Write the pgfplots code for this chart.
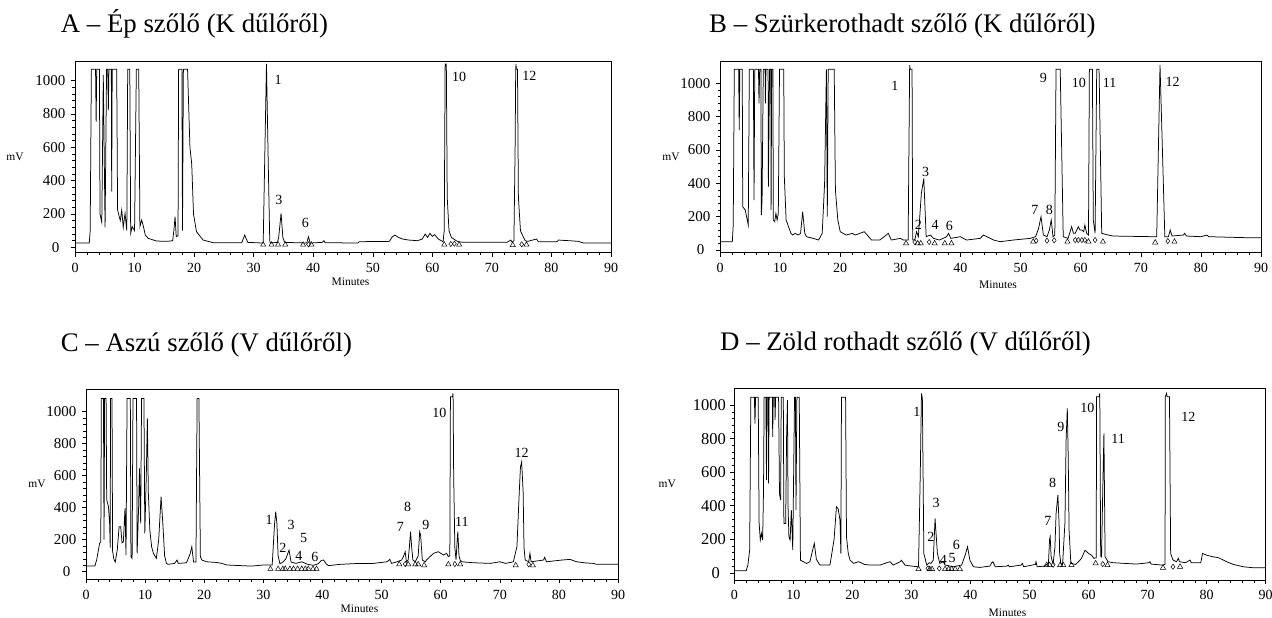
\documentclass[border=0pt]{standalone}
\usepackage{fontspec}
\setmainfont{Liberation Serif}
\usepackage{pgfplots}
\pgfplotsset{compat=1.18}
\pgfplotsset{
  chrom/.style={
    scale only axis, anchor=south west, clip mode=individual,
    xmin=0, xmax=90,
    xtick={0,10,...,90}, minor x tick num=4,
    ytick={0,200,...,1000}, minor y tick num=4,
    yticklabels={0\hspace*{6pt},200,400,600,800,1000},
    tick align=outside, tick pos=left,
    major tick length=4pt, minor tick length=2.5pt,
    every tick/.style={black, line width=0.5pt},
    axis line style={line width=0.7pt},
    xticklabel style={font=\fontsize{14}{16}\selectfont, yshift=-3pt},
    yticklabel style={font=\fontsize{15}{17}\selectfont, xshift=-2pt},
    /pgf/number format/assume math mode=true,
    /pgf/number format/1000 sep={},
    every axis plot/.append style={line width=0.6pt, black},
  },
  trace/.style={black, no marks, line width=0.75pt},
  tri/.style={only marks, mark=triangle, mark size=3pt, mark options={line width=0.5pt, black}},
  dia/.style={only marks, mark=diamond, mark size=2.6pt, mark options={line width=0.5pt, black}},
}
\newcommand{\pk}{\fontsize{14}{16}\selectfont}
\newcommand{\ttl}{\fontsize{26.8}{31}\selectfont}
\newcommand{\sm}{\fontsize{11.5}{13}\selectfont}
\begin{document}
\begin{tikzpicture}
\useasboundingbox (0pt,0pt) rectangle (1272pt,-618pt);
\node[anchor=base west, inner sep=0pt, font=\ttl] at (60.7pt,-33pt) {A – Ép szőlő (K dűlőről)};
\node[anchor=base west, inner sep=0pt, font=\ttl] at (709pt,-33pt) {B – Szürkerothadt szőlő (K dűlőről)};
\node[anchor=base west, inner sep=0pt, font=\ttl] at (60.7pt,-351pt) {C – Aszú szőlő (V dűlőről)};
\node[anchor=base west, inner sep=0pt, font=\ttl] at (720pt,-350pt) {D – Zöld rothadt szőlő (V dűlőről)};

% ---------------- A ----------------
\begin{axis}[chrom, at={(75pt,-252.7pt)}, width=536pt, height=191.7pt, ymin=-32, ymax=1118]
\addplot[trace] coordinates {
(0,26) (2.4,26) (2.55,100) (2.75,1068) (3.45,1068) (3.55,754) (3.65,1068) (4.1,1068) (4.2,200) (4.5,150) (4.75,1034) (5.05,120) (5.3,1068) (5.5,1068) (5.6,824) (5.7,1068) (6.1,1068) (6.16,334) (6.25,1068) (7.0,1068) (7.15,224) (7.6,160) (7.85,224) (8.1,120) (8.4,204) (8.7,100) (8.85,1068) (9.2,1068) (9.35,84) (9.6,124) (10.0,100) (10.3,1068) (10.7,1068) (10.9,124) (11.2,164) (11.5,124) (11.8,74) (12.3,54) (13.7,38) (15.4,36) (16.4,40) (16.6,100) (16.8,184) (17.0,64) (17.3,70) (17.4,1068) (17.95,1068) (18.05,100) (18.2,1068) (18.9,1068) (19.3,600) (19.6,500) (19.9,200) (20.4,94) (21.5,44) (23.2,28) (28.0,28) (28.5,74) (29.0,30) (31.6,26) (32.15,1100) (32.45,500) (32.7,40) (32.8,26) (34.0,30) (34.2,60) (34.6,204) (34.9,60) (35.2,30) (38.9,26) (39.2,64) (39.5,26) (41.5,30) (41.8,40) (42,28) (47.5,26) (47.7,34) (52.8,36) (53.2,60) (53.7,74) (54.3,60) (55,50) (56,44) (57.5,40) (58.3,50) (58.8,80) (59.2,60) (59.6,84) (60.0,66) (60.4,76) (61.0,50) (61.8,34) (62.0,100) (62.15,1100) (62.35,1100) (62.5,300) (62.8,100) (63.2,60) (64.0,40) (64.6,32) (66,30) (72.5,30) (73.2,44) (73.4,30) (73.7,40) (73.9,600) (74.0,1068) (74.05,1100) (74.1,1068) (74.3,1068) (74.45,300) (74.8,100) (75.3,60) (75.6,40) (76,36) (77.5,50) (77.8,34) (80.9,34) (81.2,44) (82,42) (83,40) (84.5,36) (85.4,26) (90,26)
};
\addplot[tri] coordinates {(31.6,16) (33.0,16) (34.1,16) (35.3,16) (38.3,16) (39.7,16) (62.0,16) (64.5,16) (73.5,14) (75.8,16)};
\addplot[dia] coordinates {(39.2,18) (63.1,20) (63.7,22) (75.0,18)};
\node[font=\pk] at (axis cs:34.1,1004) {1};
\node[font=\pk] at (axis cs:34.25,284) {3};
\node[font=\pk] at (axis cs:38.7,144) {6};
\node[font=\pk] at (axis cs:64.5,1024) {10};
\node[font=\pk] at (axis cs:76.3,1028) {12};
\node[font=\sm] at (rel axis cs:0,0.5) [xshift=-60pt] {mV};
\node[font=\sm] at (rel axis cs:0.514,0) [yshift=-29pt] {Minutes};
\end{axis}

% ---------------- B ----------------
\begin{axis}[chrom, at={(720pt,-252.7pt)}, width=541pt, height=191pt, ymin=-16, ymax=1130]
\addplot[trace] coordinates {
(0,50) (2.05,50) (2.2,150) (2.38,1084) (3.1,1084) (3.2,720) (3.3,1084) (3.7,1084) (3.78,260) (4.2,240) (4.7,150) (4.88,1084) (5.55,1084) (5.66,300) (5.78,1084) (6.4,1084) (6.49,880) (6.6,1084) (6.8,1084) (6.88,210) (7.0,300) (7.2,1084) (7.5,1084) (7.55,880) (7.65,1084) (8.0,1084) (8.05,380) (8.25,1084) (8.45,1084) (8.5,240) (8.6,1084) (8.8,1084) (8.87,180) (9.1,170) (9.3,220) (9.5,180) (9.7,220) (9.9,1084) (10.6,1084) (10.7,440) (11.0,180) (11.4,140) (11.8,100) (12.1,90) (12.5,100) (13.0,90) (13.4,100) (13.75,230) (14.1,100) (14.4,80) (15.5,70) (16.4,60) (17.0,100) (17.4,400) (17.7,1084) (17.85,200) (18.0,1084) (19.0,1084) (19.2,360) (19.6,180) (20.0,110) (20.5,100) (21,90) (22,100) (22.5,90) (24,110) (24.5,90) (25.2,60) (26.6,60) (28,100) (28.5,60) (30,70) (30.5,60) (31.3,60) (31.55,1110) (31.65,1084) (31.95,1084) (32.05,60) (32.4,60) (32.7,110) (33.0,80) (33.5,340) (33.9,430) (34.3,80) (35.0,90) (35.5,70) (36.5,60) (37.7,80) (38.0,100) (38.4,70) (40,80) (40.5,70) (41,60) (43.3,70) (43.8,90) (44.4,80) (45.5,60) (46.6,50) (48.8,60) (51.6,70) (52.5,80) (53.0,130) (53.4,200) (53.8,90) (54.4,80) (54.8,120) (55.1,180) (55.4,80) (55.7,90) (55.9,1084) (56.6,1084) (57.1,80) (57.9,70) (58.5,140) (58.8,100) (59.1,100) (59.6,140) (59.9,120) (60.2,120) (60.5,110) (60.7,150) (61.0,100) (61.3,90) (61.45,1084) (61.95,1084) (62.1,180) (62.4,100) (62.67,1084) (63.06,1084) (63.5,100) (64.6,90) (65.4,84) (72.0,80) (72.65,80) (73.2,1110) (73.6,600) (74.0,80) (74.6,80) (74.9,120) (75.2,84) (77.1,90) (77.3,100) (77.6,84) (80,80) (81,90) (81.3,80) (87.6,74) (90,74)
};
\addplot[tri] coordinates {(30.95,40) (32.9,40) (33.4,40) (35.7,40) (37.4,40) (38.5,40) (52.1,50) (57.8,50) (61.3,50) (63.7,50) (72.4,45) (75.6,50)};
\addplot[dia] coordinates {(32.4,48) (34.8,48) (52.6,56) (54.4,56) (55.6,58) (59.1,60) (59.6,60) (60.2,60) (60.7,60) (62.4,60) (74.5,54)};
\node[font=\pk] at (axis cs:29.1,984) {1};
\node[font=\pk] at (axis cs:33.0,150) {2};
\node[font=\pk] at (axis cs:34.2,470) {3};
\node[font=\pk] at (axis cs:35.8,150) {4};
\node[font=\pk] at (axis cs:38.15,146) {6};
\node[font=\pk] at (axis cs:52.4,240) {7};
\node[font=\pk] at (axis cs:54.8,240) {8};
\node[font=\pk] at (axis cs:53.8,1030) {9};
\node[font=\pk] at (axis cs:59.7,1004) {10};
\node[font=\pk] at (axis cs:64.8,1004) {11};
\node[font=\pk] at (axis cs:75.3,1010) {12};
\node[font=\sm] at (rel axis cs:0,0.5) [xshift=-49pt] {mV};
\node[font=\sm] at (rel axis cs:0.514,0) [yshift=-32pt] {Minutes};
\end{axis}

% ---------------- C ----------------
\begin{axis}[chrom, at={(86pt,-579.3pt)}, width=532pt, height=190pt, ymin=-47.5, ymax=1140]
\addplot[trace] coordinates {
(0,35) (1.5,35) (1.8,73) (2.3,177) (2.5,187) (2.6,1083) (2.95,1083) (3.05,200) (3.15,1083) (3.4,1083) (3.5,450) (3.8,406) (4.0,300) (4.1,150) (4.15,1083) (4.4,1083) (4.5,130) (4.7,80) (4.95,60) (5.3,140) (5.6,281) (5.87,281) (6.1,180) (6.32,187) (6.6,396) (6.77,104) (6.95,1083) (7.5,1083) (7.6,94) (7.8,83) (7.95,1083) (8.55,1083) (8.65,115) (8.9,400) (9.05,646) (9.25,302) (9.4,1083) (9.8,1083) (9.95,240) (10.2,600) (10.38,958) (10.55,490) (10.8,260) (11.1,156) (11.4,115) (11.9,83) (12.3,200) (12.7,469) (13.0,300) (13.3,100) (13.6,52) (13.9,46) (15.0,52) (15.4,73) (15.6,52) (17.0,56) (17.6,110) (17.9,156) (18.2,60) (18.6,60) (18.8,1083) (19.1,1083) (19.35,94) (19.6,73) (20.4,62) (22,58) (23,52) (23.8,42) (25,40) (28,35) (30,42) (31.5,42) (31.9,300) (32.1,375) (32.3,300) (32.5,100) (32.8,50) (33.3,60) (33.8,80) (34.35,135) (34.7,60) (35.5,52) (36.5,62) (37.5,46) (38.5,40) (39.3,50) (39.8,70) (40.2,73) (40.6,50) (41,38) (43,46) (46.3,52) (48.6,52) (50.9,62) (51.2,70) (51.4,77) (51.7,52) (52.6,62) (53.4,73) (53.7,94) (54.0,125) (54.2,62) (54.5,73) (54.7,150) (54.9,250) (55.1,150) (55.3,73) (55.7,62) (56.2,100) (56.45,250) (56.6,230) (56.9,73) (57.4,62) (57.6,73) (58.2,94) (58.8,115) (59.6,125) (60.5,104) (61.0,115) (61.3,94) (61.55,100) (61.65,1094) (62.0,1094) (62.1,1115) (62.2,600) (62.4,150) (62.6,73) (62.8,200) (62.9,250) (63.1,100) (63.3,73) (63.6,62) (65.5,56) (68.4,52) (70.0,62) (71,52) (72.3,62) (72.9,156) (73.3,500) (73.5,656) (73.7,687) (73.95,500) (74.1,150) (74.3,73) (74.9,62) (75.1,115) (75.3,62) (77.4,73) (77.6,90) (77.9,62) (80.5,73) (81.9,77) (83,62) (84.5,55) (85.8,52) (86.4,46) (90,46)
};
\addplot[tri] coordinates {(31.2,17) (32.5,17) (33.3,17) (33.7,17) (34.5,17) (35.1,17) (35.8,17) (36.5,17) (37.1,17) (37.6,17) (38.4,17) (39.0,17) (53.0,46) (54.5,46) (55.7,46) (56.2,46) (57.2,40) (61.3,46) (63.3,46) (72.7,40) (75.6,40)};
\addplot[dia] coordinates {(54.0,48) (62.4,48) (74.9,46)};
\node[font=\pk] at (axis cs:31.0,327) {1};
\node[font=\pk] at (axis cs:33.3,146) {2};
\node[font=\pk] at (axis cs:34.7,292) {3};
\node[font=\pk] at (axis cs:36.0,98) {4};
\node[font=\pk] at (axis cs:36.8,213) {5};
\node[font=\pk] at (axis cs:38.7,90) {6};
\node[font=\pk] at (axis cs:53.2,281) {7};
\node[font=\pk] at (axis cs:54.4,406) {8};
\node[font=\pk] at (axis cs:57.5,292) {9};
\node[font=\pk] at (axis cs:59.8,990) {10};
\node[font=\pk] at (axis cs:63.6,312) {11};
\node[font=\pk] at (axis cs:73.7,744) {12};
\node[font=\sm] at (rel axis cs:0,0.5) [xshift=-49pt] {mV};
\node[font=\sm] at (rel axis cs:0.514,0) [yshift=-29pt] {Minutes};
\end{axis}

% ---------------- D ----------------
\begin{axis}[chrom, at={(734.3pt,-580pt)}, width=531.4pt, height=191.7pt, ymin=-43, ymax=1100,
  yticklabel style={font=\fontsize{16.5}{18}\selectfont, xshift=1pt}]
\addplot[trace] coordinates {
(0,12) (2.0,12) (2.3,46) (2.6,135) (2.8,1046) (3.4,1046) (3.5,890) (3.6,1046) (4.05,1046) (4.2,300) (4.4,195) (4.6,235) (4.8,195) (4.95,500) (5.05,1046) (5.35,1046) (5.45,553) (5.55,1046) (5.75,1046) (5.8,533) (5.9,1046) (6.45,1046) (6.5,811) (6.6,1046) (6.85,1046) (6.9,910) (7.0,1046) (7.5,1046) (7.65,473) (7.85,433) (7.95,1046) (8.3,1046) (8.4,294) (8.7,294) (8.85,800) (9.0,1030) (9.1,400) (9.25,215) (9.45,195) (9.66,374) (9.9,135) (10.2,1046) (10.35,1046) (10.45,374) (10.6,1046) (11.0,1046) (11.2,75) (11.7,66) (12.25,56) (12.8,66) (13.3,140) (13.55,175) (13.9,80) (14.5,46) (16.2,46) (16.9,200) (17.3,394) (17.6,380) (17.9,314) (18.05,115) (18.15,1046) (18.85,1046) (19.0,215) (19.3,115) (19.6,75) (20.2,56) (21,66) (21.5,60) (22,50) (23,46) (24.7,46) (25.5,56) (26.4,66) (26.9,46) (28.1,66) (28.3,75) (28.9,46) (30,40) (31.2,36) (31.5,600) (31.7,1070) (31.85,1040) (32.1,115) (32.6,46) (33.0,60) (33.3,56) (33.7,75) (34.0,324) (34.4,115) (34.8,56) (35.4,66) (35.7,46) (37.1,36) (38.5,46) (39.1,105) (39.5,155) (39.9,75) (40.5,36) (41.6,32) (43.3,40) (43.6,60) (43.8,66) (44.2,36) (46.2,40) (46.4,46) (46.6,36) (48.6,46) (48.8,56) (49,36) (51.0,50) (51.1,66) (51.3,36) (52.5,40) (53.2,56) (53.4,200) (53.5,215) (53.65,100) (53.8,76) (54.0,56) (54.3,150) (54.5,354) (54.8,463) (55.0,300) (55.1,115) (55.3,56) (55.6,50) (56.0,300) (56.2,800) (56.4,980) (56.55,700) (56.7,254) (57.0,56) (57.8,50) (58.3,66) (58.8,86) (59.4,135) (60.0,115) (60.5,105) (60.9,86) (61.3,90) (61.35,1050) (61.8,1050) (61.9,1070) (62.05,100) (62.2,95) (62.4,490) (62.6,831) (62.8,95) (63.3,66) (64.2,60) (68.1,52) (70.2,60) (70.4,66) (70.6,52) (72.4,46) (72.95,50) (73.0,1050) (73.2,1070) (73.3,1050) (73.7,1050) (73.9,115) (74.3,76) (74.9,66) (75.2,86) (75.4,66) (76.4,60) (77.2,76) (77.4,60) (79.0,60) (79.3,115) (80,105) (81.1,95) (82,90) (83.4,66) (84.5,50) (86.2,36) (87.9,30) (90,30)
};
\addplot[tri] coordinates {(31.2,22) (33.1,22) (33.5,22) (35.7,22) (36.3,22) (36.8,22) (37.4,22) (38.2,22) (52.9,46) (53.4,46) (55.2,46) (55.7,46) (57.1,46) (61.2,56) (63.2,46) (72.6,30) (75.5,36)};
\addplot[dia] coordinates {(32.8,26) (34.7,26) (54.0,48) (62.4,52) (74.3,36)};
\node[font=\pk] at (axis cs:30.9,960) {1};
\node[font=\pk] at (axis cs:33.3,215) {2};
\node[font=\pk] at (axis cs:34.2,414) {3};
\node[font=\pk] at (axis cs:35.4,76) {4};
\node[font=\pk] at (axis cs:36.9,90) {5};
\node[font=\pk] at (axis cs:37.6,165) {6};
\node[font=\pk] at (axis cs:53.1,310) {7};
\node[font=\pk] at (axis cs:53.9,533) {8};
\node[font=\pk] at (axis cs:55.3,871) {9};
\node[font=\pk] at (axis cs:59.8,986) {10};
\node[font=\pk] at (axis cs:65.0,801) {11};
\node[font=\pk] at (axis cs:76.9,927) {12};
\node[font=\sm] at (rel axis cs:0,0.5) [xshift=-67pt] {mV};
\node[font=\sm] at (rel axis cs:0.514,0) [yshift=-33pt] {Minutes};
\end{axis}
\end{tikzpicture}
\end{document}
